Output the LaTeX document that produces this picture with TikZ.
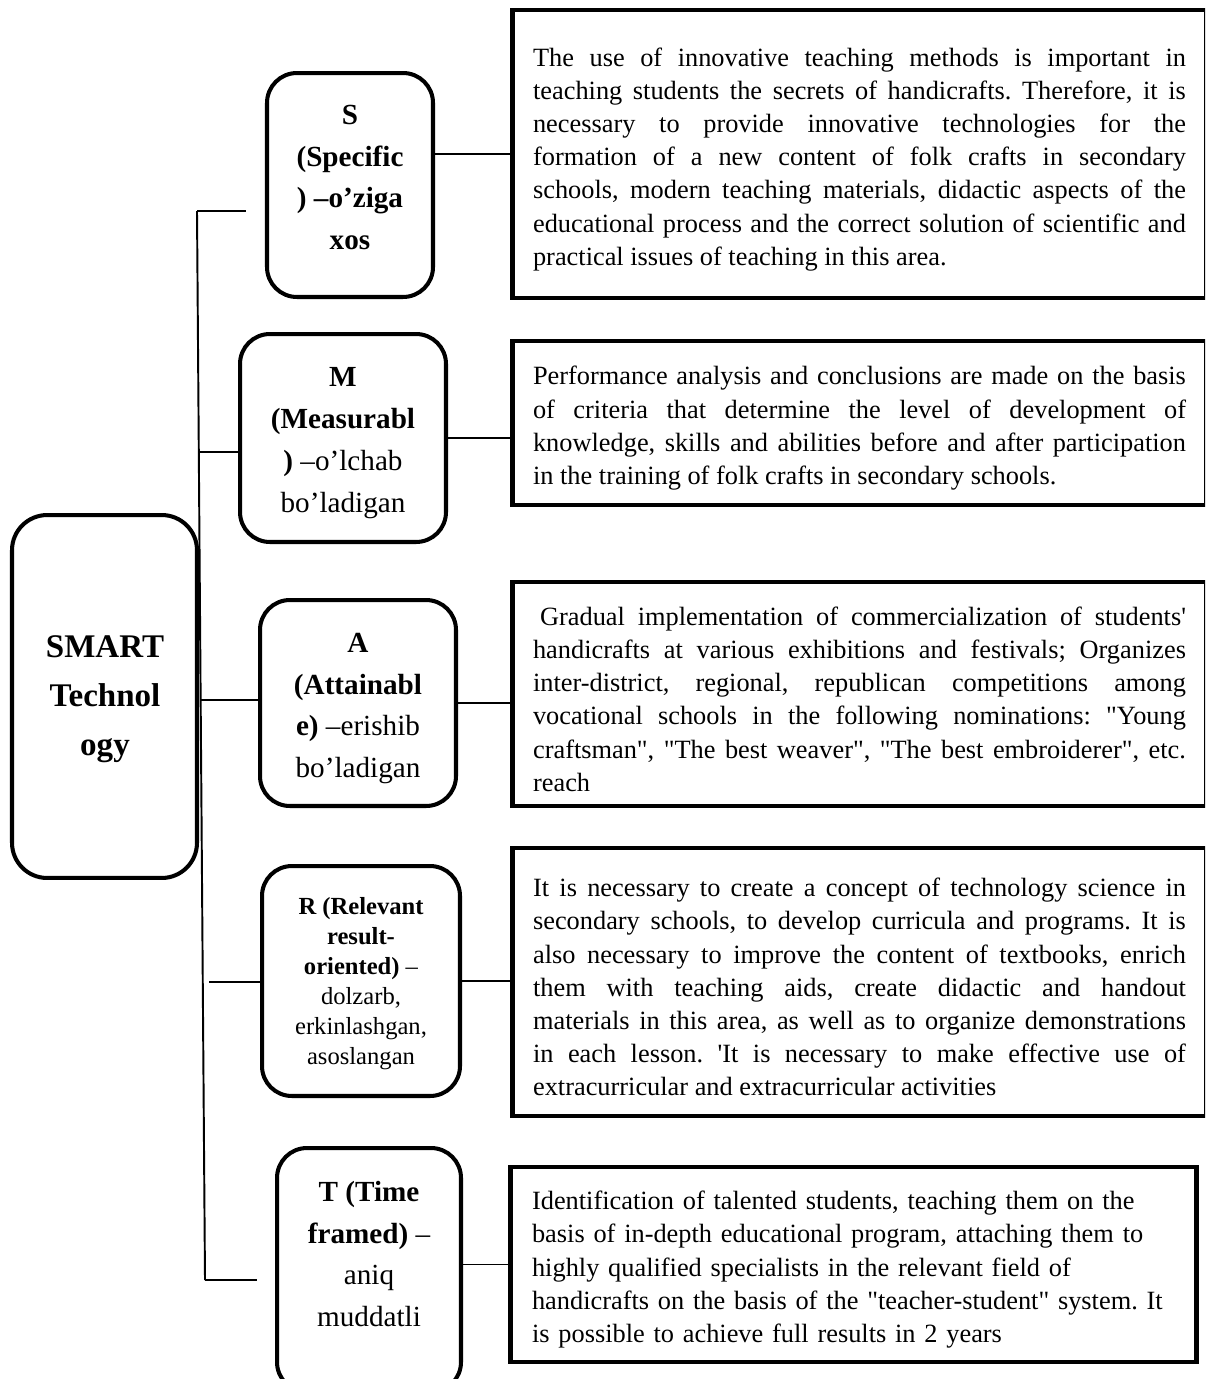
\documentclass[tikz,border=0pt]{standalone}
\usepackage{fontspec}
\setmainfont{Liberation Serif}
\usetikzlibrary{positioning,calc}

\tikzset{
  keybox/.style={draw, line width=2.3pt, rounded corners=17pt, inner sep=0pt},
  keytext/.style={align=center, font=\fontsize{16.6}{23.8}\selectfont\bfseries},
  keysmall/.style={align=center, font=\fontsize{14}{17}\selectfont\bfseries},
  descbox/.style={draw, line width=2.8pt, inner xsep=0.42cm, text width=13.06cm,
    align=justify, font=\fontsize{15}{18.9}\selectfont\frenchspacing},
  link/.style={line width=1.1pt},
}
\newcommand{\dq}{\textquotedbl}
\newcommand{\topstrut}{\rule{0pt}{16.5pt}}

\begin{document}
\begin{tikzpicture}[x=0.02cm, y=-0.02cm]
    \useasboundingbox (0,0) rectangle (1205,1379);
    \clip (0,0) rectangle (1205,1379);

    % Root box
    \node[keybox, rounded corners=20pt, minimum width=3.7cm, minimum height=7.26cm] (smart) at (104.5,696.5) {};
    \node[align=center, font=\fontsize{18.8}{28}\selectfont\bfseries] (smart-txt) at (105,699.5) {SMART\\Technol\\ogy};

    % SMART letters
    \node[keybox, minimum width=3.32cm, minimum height=4.48cm] (S) at (350,185) {};
    \node[keytext] (S-txt) at (350,177.5) {S\\(Specific\\) –o’ziga\\xos};

    \node[keybox, minimum width=4.12cm, minimum height=4.16cm] (M) at (343,438) {};
    \node[keytext] (M-txt) at (343,443) {M\\(Measurabl\\) {\mdseries –o’lchab}\\{\mdseries bo’ladigan}};

    \node[keybox, minimum width=3.92cm, minimum height=4.12cm] (A) at (358,703) {};
    \node[keytext] (A-txt) at (358,708.5) {A\\(Attainabl\\e) {\mdseries –erishib}\\{\mdseries bo’ladigan}};

    \node[keybox, minimum width=3.96cm, minimum height=4.6cm] (R) at (361,981) {};
    \node[keysmall] (R-txt) at (361,983.5) {R (Relevant\\result-\\oriented) {\mdseries –}\\{\mdseries dolzarb,}\\{\mdseries erkinlashgan,}\\{\mdseries asoslangan}};

    \node[keybox, minimum width=3.68cm, minimum height=4.88cm] (T) at (369,1270) {};
    \node[keytext] (T-txt) at (369,1254) {T (Time\\framed) {\mdseries –}\\{\mdseries aniq}\\{\mdseries muddatli}};

    % Descriptions
    \node[descbox, minimum height=5.76cm] (S-d) at (859.5,154) {%
        \topstrut The use of innovative teaching methods is important in\linebreak
        teaching students the secrets of handicrafts. Therefore, it is\linebreak
        necessary to provide innovative technologies for the\linebreak
        formation of a new content of folk crafts in secondary\linebreak
        schools, modern teaching materials, didactic aspects of the\linebreak
        educational process and the correct solution of scientific and\linebreak
        practical issues of teaching in this area.};

    \node[descbox, minimum height=3.28cm] (M-d) at (859.5,423) {%
        \topstrut Performance analysis and conclusions are made on the basis\linebreak
        of criteria that determine the level of development of\linebreak
        knowledge, skills and abilities before and after participation\linebreak
        in the training of folk crafts in secondary schools.};

    \node[descbox, minimum height=4.48cm] (A-d) at (859.5,694) {%
        \topstrut\hspace*{4pt}Gradual implementation of commercialization of students\textquotesingle\linebreak
        handicrafts at various exhibitions and festivals; Organizes\linebreak
        inter-district, regional, republican competitions among\linebreak
        vocational schools in the following nominations: \dq Young\linebreak
        craftsman\dq, \dq The best weaver\dq, \dq The best embroiderer\dq, etc.\linebreak
        reach};

    \node[descbox, minimum height=5.36cm] (R-d) at (859.5,982) {%
        \topstrut It is necessary to create a concept of technology science in\linebreak
        secondary schools, to develop curricula and programs. It is\linebreak
        also necessary to improve the content of textbooks, enrich\linebreak
        them with teaching aids, create didactic and handout\linebreak
        materials in this area, as well as to organize demonstrations\linebreak
        in each lesson. \textquotesingle It is necessary to make effective use of\linebreak
        extracurricular and extracurricular activities};

    \node[descbox, align=left, text width=12.86cm, inner xsep=0.44cm, minimum height=3.9cm] (T-d) at (853.5,1264.5) {%
        \topstrut Identification of talented students, teaching them on the\\
        basis of in-depth educational program, attaching them to\\
        highly qualified specialists in the relevant field of\\
        handicrafts on the basis of the \dq teacher-student\dq{} system. It\\
        is possible to achieve full results in 2 years};

    % Trunk and branches
    \coordinate (trunk-top) at (197,211);
    \coordinate (trunk-bot) at (205,1280);
    \coordinate (S-free) at (246,211);
    \coordinate (M-root) at (199,452);
    \coordinate (A-root) at (200,700);
    \coordinate (R-root) at (209,982);
    \coordinate (T-free) at (257,1280);

    \draw[link] (trunk-top) -- (trunk-bot);
    \draw[link] (trunk-top) -- (S-free);
    \draw[link] (M-root) -- (M-root -| M.west);
    \draw[link] (A-root) -- (A-root -| A.west);
    \draw[link] (R-root) -- (R-root -| R.west);
    \draw[link] (trunk-bot) -- (T-free);

    % Letters to descriptions
    \draw[link] (S-d.west) -- (S-d.west -| S.east);
    \draw[link] (M.east) -- (M.east -| M-d.west);
    \draw[link] (A.east) -- (A.east -| A-d.west);
    \draw[link] (R.east) -- (R.east -| R-d.west);
    \draw[link] (T-d.west) -- (T-d.west -| T.east);

\end{tikzpicture}
\end{document}
